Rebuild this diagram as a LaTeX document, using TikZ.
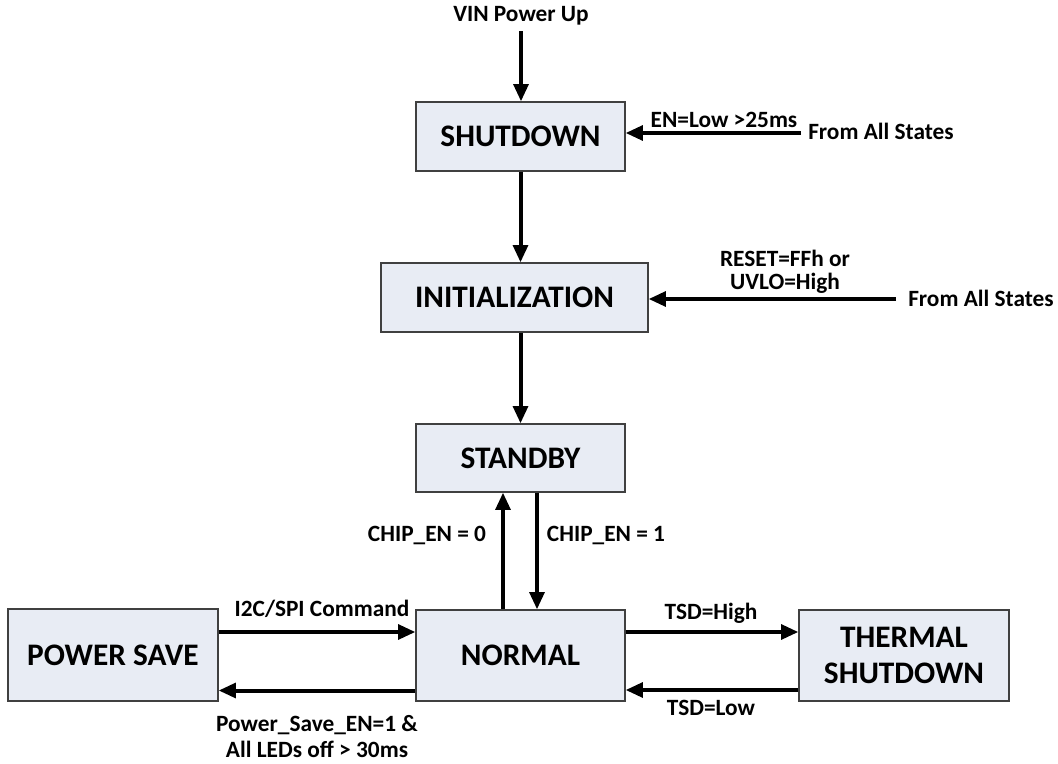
\documentclass[tikz,border=0pt]{standalone}
\usepackage{fontspec}
\setmainfont{Carlito}
\usetikzlibrary{arrows.meta}
\usetikzlibrary{calc}

\definecolor{boxfill}{RGB}{232,236,244}
\definecolor{boxline}{RGB}{64,64,64}

\begin{document}
\begin{tikzpicture}[x=0.75pt,y=-0.75pt,
	state/.style={draw=boxline,fill=boxfill,line width=0.9pt,inner sep=0pt,align=center,font=\fontsize{23.5}{27}\selectfont\bfseries},
	lbl/.style={inner sep=0pt,align=center,font=\fontsize{17.5}{19.5}\selectfont\bfseries},
	flow/.style={line width=3pt,-{Triangle[length=13pt,width=11pt]}}]
	\useasboundingbox (0,0) rectangle (1058,764);
	% States %
	\node [state,minimum width=156.75pt,minimum height=51.75pt] (shutdown) at (520.5,136.5) {SHUTDOWN};
	\node [state,minimum width=200.25pt,minimum height=51.75pt] (init) at (514.5,297.5) {INITIALIZATION};
	\node [state,minimum width=156.75pt,minimum height=51pt] (standby) at (520.5,458) {STANDBY};
	\node [state,minimum width=156.75pt,minimum height=68.25pt] (normal) at (520.5,655.5) {NORMAL};
	\node [state,minimum width=157.5pt,minimum height=69pt] (powersave) at (113,655) {POWER SAVE};
	\node [state,minimum width=157.5pt,minimum height=68.25pt] (thermal) at (904,655.5) {THERMAL\\SHUTDOWN};
	% Free ends %
	\node [lbl] (vin) at (521,16) {VIN Power Up};
	\node [lbl,anchor=west] (fromall1) at (808,131) {From All States};
	\node [lbl,anchor=west] (fromall2) at (908,298) {From All States};
	\coordinate (enfree) at (801,133);
	\coordinate (resetfree) at (896,299);
	% Transitions %
	\draw [flow,shorten <=4pt] (vin.south) -- (vin.south |- shutdown.north);
	\draw [flow] (shutdown.south) -- (shutdown.south |- init.north);
	\draw [flow] (shutdown.south |- init.south) -- (standby.north);
	\draw [flow] (enfree) -- (enfree -| shutdown.east);
	\draw [flow] (resetfree) -- (resetfree -| init.east);
	\draw [flow] ($(normal.north)+(-17.5,0)$) -- ($(standby.south)+(-17.5,0)$);
	\draw [flow] ($(standby.south)+(16.5,0)$) -- ($(normal.north)+(16.5,0)$);
	\draw [flow] ($(powersave.east)+(0,-23)$) coordinate (i2c) -- (i2c -| normal.west);
	\draw [flow] ($(normal.west)+(0,35)$) coordinate (psback) -- (psback -| powersave.east);
	\draw [flow] ($(normal.east)+(0,-23.5)$) coordinate (tsdhigh) -- (tsdhigh -| thermal.west);
	\draw [flow] ($(thermal.west)+(0,34.5)$) coordinate (tsdlow) -- (tsdlow -| normal.east);
	% Conditions %
	\node [lbl] (enlow) at (724,120) {EN=Low >25ms};
	\node [lbl,font=\fontsize{17.5}{17.25}\selectfont\bfseries] (reset) at (785,271.5) {RESET=FFh or\\UVLO=High};
	\node [lbl] (chip0) at (427,535) {CHIP\_EN = 0};
	\node [lbl] (chip1) at (606,535) {CHIP\_EN = 1};
	\node [lbl] (i2ccmd) at (322,609) {I2C/SPI Command};
	\node [lbl] (psen) at (317,737) {Power\_Save\_EN=1 \&\\All LEDs off > 30ms};
	\node [lbl] (tsdh) at (711,613) {TSD=High};
	\node [lbl] (tsdl) at (711,708) {TSD=Low};
\end{tikzpicture}
\end{document}
